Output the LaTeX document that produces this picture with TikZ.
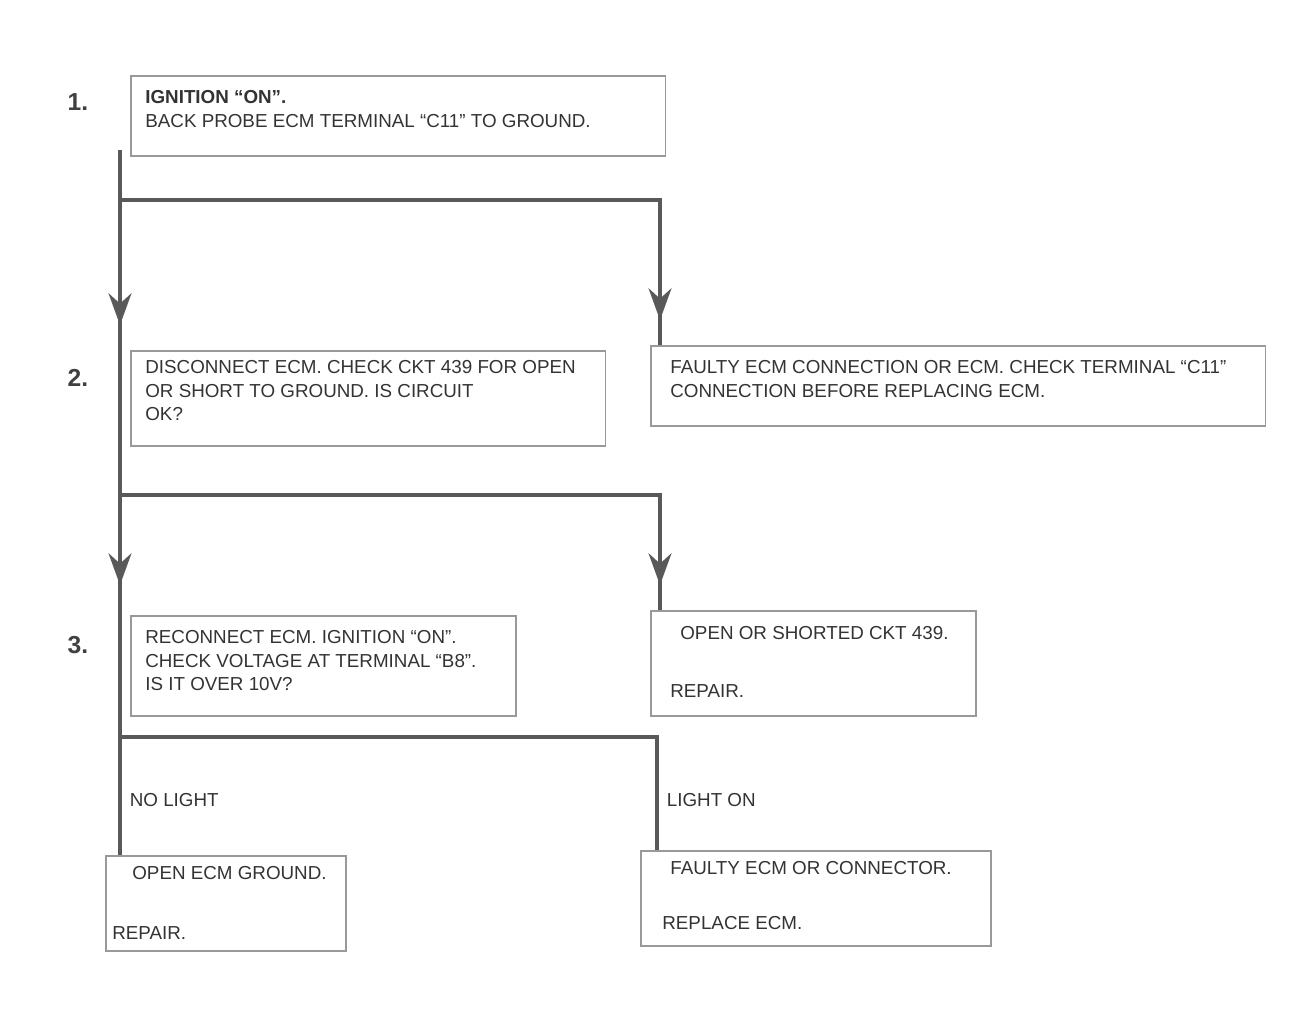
\documentclass[tikz,border=0pt]{standalone}
\usepackage{fontspec}
\setmainfont{Liberation Sans}
\usetikzlibrary{arrows.meta}
\begin{document}
\begin{tikzpicture}[x=0.02cm,y=-0.02cm,
  flow/.style={line width=2.4pt, draw=black!65},
  tipflow/.style={line width=2.4pt, draw=black!65, -{Stealth[length=18pt,width=13pt]}},
  box/.style={draw=black!40, line width=0.9pt, anchor=north west, inner sep=0pt},
  txt/.style={anchor=north west, align=left, font=\fontsize{10.7}{13.5}\selectfont, text=black!80, inner sep=0pt},
  num/.style={font=\bfseries\fontsize{14}{16}\selectfont, text=black!75},
  lbl/.style={font=\fontsize{10.7}{12}\selectfont, text=black!80, anchor=west, inner sep=2pt}]
\useasboundingbox (0,0) rectangle (1300,1031);

% step numbers
\node[num] (n1) at (78,102) {1.};
\node[num] (n2) at (78,378) {2.};
\node[num] (n3) at (78,645) {3.};

% boxes
\node[box, minimum width=10.7cm, minimum height=1.6cm] (b1) at (130,75) {};
\node[txt] (t1) at (145,90) {\textbf{IGNITION ``ON''.}\\BACK PROBE ECM TERMINAL ``C11'' TO GROUND.};

\node[box, minimum width=9.5cm, minimum height=1.9cm] (b2) at (130,350) {};
\node[txt] (t2) at (145,360) {DISCONNECT ECM. CHECK CKT 439 FOR OPEN\\OR SHORT TO GROUND. IS CIRCUIT\\OK?};

\node[box, minimum width=12.3cm, minimum height=1.6cm] (r2) at (650,345) {};
\node[txt] (tr2) at (670,360) {FAULTY ECM CONNECTION OR ECM. CHECK TERMINAL ``C11''\\CONNECTION BEFORE REPLACING ECM.};

\node[box, minimum width=7.7cm, minimum height=2.0cm] (b3) at (130,615) {};
\node[txt] (t3) at (145,630) {RECONNECT ECM. IGNITION ``ON''.\\CHECK VOLTAGE AT TERMINAL ``B8''.\\IS IT OVER 10V?};

\node[box, minimum width=6.5cm, minimum height=2.1cm] (r3) at (650,610) {};
\node[txt] (tr3a) at (680,626) {OPEN OR SHORTED CKT 439.};
\node[txt] (tr3b) at (670,684) {REPAIR.};

\node[box, minimum width=4.8cm, minimum height=1.9cm] (l4) at (105,855) {};
\node[txt] (tl4a) at (132,866) {OPEN ECM GROUND.};
\node[txt] (tl4b) at (112,926) {REPAIR.};

\node[box, minimum width=7.0cm, minimum height=1.9cm] (r4) at (640,850) {};
\node[txt] (tr4a) at (670,861) {FAULTY ECM OR CONNECTOR.};
\node[txt] (tr4b) at (662,916) {REPLACE ECM.};

% flow coordinates
\coordinate (s1) at (120,150);
\coordinate (j1) at (120,200);
\coordinate (k1) at (660,200);
\coordinate (e1) at (660,345);
\coordinate (j2) at (120,495);
\coordinate (k2) at (660,495);
\coordinate (e2) at (660,610);
\coordinate (j3) at (120,737);
\coordinate (k3) at (657,737);
\coordinate (e3) at (657,850);
\coordinate (eL) at (120,855);

\draw[flow] (s1) -- (j1) -- (j2) -- (j3) -- (eL);
\draw[flow] (j1) -- (k1) -- (e1);
\draw[flow] (j2) -- (k2) -- (e2);
\draw[flow] (j3) -- (k3) -- (e3);

% arrow tips along the branches
\coordinate (a1s) at (120,260); \coordinate (a1e) at (120,325);
\coordinate (a2s) at (660,255); \coordinate (a2e) at (660,320);
\coordinate (a3s) at (120,530); \coordinate (a3e) at (120,585);
\coordinate (a4s) at (660,530); \coordinate (a4e) at (660,585);
\draw[tipflow] (a1s) -- (a1e);
\draw[tipflow] (a2s) -- (a2e);
\draw[tipflow] (a3s) -- (a3e);
\draw[tipflow] (a4s) -- (a4e);

% branch labels
\node[lbl] (lb1) at (126,800) {NO LIGHT};
\node[lbl] (lb2) at (663,800) {LIGHT ON};
\end{tikzpicture}
\end{document}
